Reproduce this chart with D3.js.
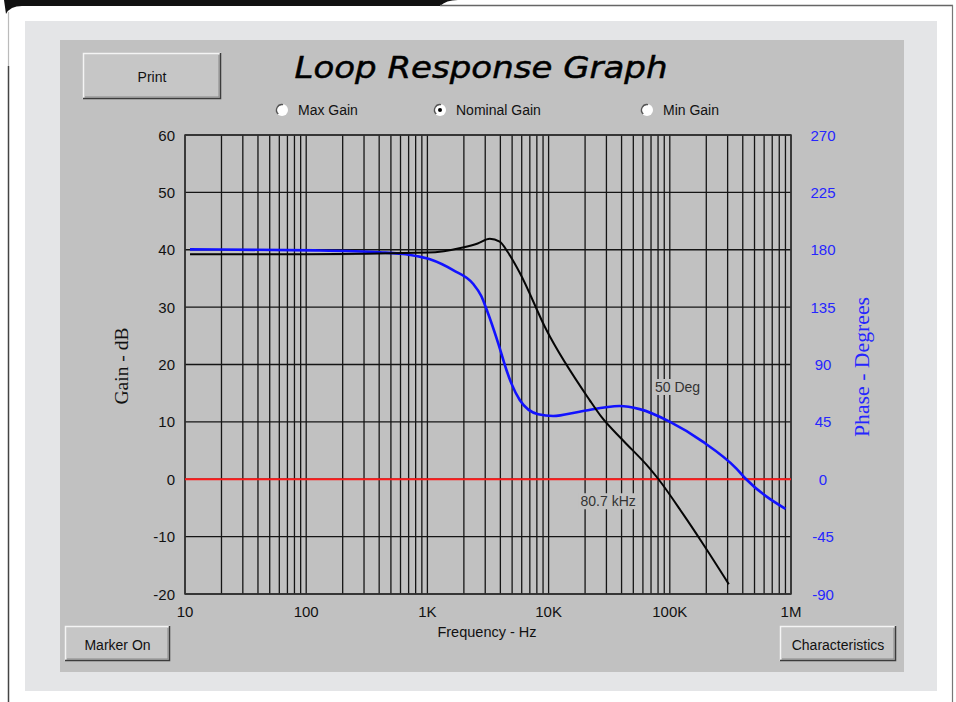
<!DOCTYPE html>
<html>
<head>
<meta charset="utf-8">
<script src="https://cdn.jsdelivr.net/npm/d3@7"></script>
<style>
  body { margin: 0; background: #fff; }
  svg { display: block; }
</style>
</head>
<body>
<svg id="chart"></svg>
<script>
// gain curve (nominal)
const gainFreq = [11, 100, 1000, 1960, 2600, 3270, 3950, 4600, 5780, 9600, 21800, 27200, 41000, 68200, 80700, 128000, 187000, 307000]
const gainDb   = [39.2, 39.2, 39.5, 40.4, 41.1, 41.9, 41.4, 39.6, 36.0, 26.0, 13.8, 10.9, 6.8, 1.9, 0, -6.0, -11.2, -18.3]

// phase curve
const phaseFreq = [11, 118, 405, 717, 1050, 1630, 2370, 2790, 3070, 3840, 4490, 4930, 5780, 8200, 10900, 18000, 38500, 56400, 99600, 187000, 353000, 427000, 902000]
const phaseDeg  = [180.3, 179.5, 178, 176, 172.5, 164, 153.5, 143.5, 133.5, 106.6, 85.7, 75.2, 62.2, 51, 49.6, 53, 57.5, 55, 45.2, 29.5, 8.6, 0, -23.3]

const freqTicks = [10, 100, 1000, 10000, 100000, 1000000]
const freqTickLabels = ["10", "100", "1K", "10K", "100K", "1M"]
const gainTicks = [60, 50, 40, 30, 20, 10, 0, -10, -20]
const phaseTicks = [270, 225, 180, 135, 90, 45, 0, -45, -90]

const radios = ["Max Gain", "Nominal Gain", "Min Gain"]
const selectedRadio = "Nominal Gain"
const crossoverFreq = 80700
const crossoverLabel = "80.7 kHz"
const marginLabel = "50 Deg"

const W = 956, H = 702
const plot = { left: 185, right: 791, top: 135, bottom: 594 }
const radioPos = [282, 440, 647]
const sans = "'Liberation Sans', Arial, sans-serif"
const serif = "'Liberation Serif', 'DejaVu Serif', serif"

const svg = d3.select("#chart").attr("width", W).attr("height", H)
    .attr("font-family", sans)

// page frame
svg.append("path")
   .attr("d", "M4,0 L458,0 Q446,0 440,6 L22,6 Q10,6 6,14 Z")
   .attr("fill", "#111")
svg.append("line").attr("x1", 440).attr("x2", 953).attr("y1", 5.5).attr("y2", 5.5)
   .attr("stroke", "#666").attr("stroke-width", 1.5)
svg.append("line").attr("x1", 952.5).attr("x2", 952.5).attr("y1", 5).attr("y2", H)
   .attr("stroke", "#777").attr("stroke-width", 1.2)
svg.append("line").attr("x1", 8.5).attr("x2", 8.5).attr("y1", 12).attr("y2", 66)
   .attr("stroke", "#bbb").attr("stroke-width", 1.2)
svg.append("line").attr("x1", 8.5).attr("x2", 8.5).attr("y1", 66).attr("y2", H)
   .attr("stroke", "#444").attr("stroke-width", 1.5)

// panels
svg.append("rect").attr("x", 25).attr("y", 21).attr("width", 912).attr("height", 670).attr("fill", "#e4e5e7")
svg.append("rect").attr("x", 60).attr("y", 40).attr("width", 844).attr("height", 632).attr("fill", "#c1c1c1")

function button(x, y, w, h, label) {
  const g = svg.append("g").attr("transform", `translate(${x},${y})`)
  g.append("rect").attr("width", w).attr("height", h).attr("fill", "#c6c6c6")
  g.append("path").attr("d", `M0.5,${h} V0.5 H${w}`).attr("fill", "none").attr("stroke", "#f4f4f4").attr("stroke-width", 1.5)
  g.append("path").attr("d", `M0,${h - 0.5} H${w - 0.5} V0`).attr("fill", "none").attr("stroke", "#3c3c3c").attr("stroke-width", 1.5)
  g.append("path").attr("d", `M2,${h - 2} H${w - 2} V2`).attr("fill", "none").attr("stroke", "#888").attr("stroke-width", 1)
  g.append("text").attr("x", w / 2).attr("y", h / 2 + 1).attr("text-anchor", "middle")
   .attr("dominant-baseline", "central").attr("font-size", 14).attr("fill", "#111").text(label)
}
button(83, 53, 138, 46, "Print")
button(65, 626, 105, 35, "Marker On")
button(780, 626, 116, 35, "Characteristics")

// title
svg.append("text")
   .attr("x", 481).attr("y", 78)
   .attr("text-anchor", "middle")
   .attr("font-family", "'DejaVu Sans', Verdana, sans-serif")
   .attr("font-style", "italic")
   .attr("font-size", 31)
   .attr("textLength", 373)
   .attr("lengthAdjust", "spacingAndGlyphs")
   .attr("fill", "#000")
   .attr("stroke", "#000").attr("stroke-width", 0.5)
   .text("Loop Response Graph")

// radio buttons
radios.forEach((r, i) => {
  const g = svg.append("g").attr("transform", `translate(${radioPos[i]},110)`)
  g.append("circle").attr("r", 6).attr("fill", "#fff")
  g.append("path").attr("d", d3.arc()({ innerRadius: 4.8, outerRadius: 6.2, startAngle: -2.4, endAngle: 0.2 }))
   .attr("fill", "#555")
  if (r === selectedRadio) g.append("circle").attr("r", 2).attr("fill", "#000")
  g.append("text").attr("x", 16).attr("y", 0).attr("dominant-baseline", "central")
   .attr("font-size", 14).attr("fill", "#111").text(r)
})

// scales
const x = d3.scaleLog().domain([10, 1e6]).range([plot.left, plot.right])
const yGain = d3.scaleLinear().domain([-20, 60]).range([plot.bottom, plot.top])
const yPhase = d3.scaleLinear().domain([-90, 270]).range([plot.bottom, plot.top])

const grid = svg.append("g").attr("stroke", "#151515").attr("stroke-width", 1.3)
grid.selectAll("line.v").data(x.ticks()).join("line").attr("class", "v")
    .attr("x1", d => x(d)).attr("x2", d => x(d)).attr("y1", plot.top).attr("y2", plot.bottom)
grid.selectAll("line.h").data(gainTicks).join("line").attr("class", "h")
    .attr("x1", plot.left).attr("x2", plot.right).attr("y1", d => yGain(d)).attr("y2", d => yGain(d))
svg.append("rect").attr("x", plot.left).attr("y", plot.top)
   .attr("width", plot.right - plot.left).attr("height", plot.bottom - plot.top)
   .attr("fill", "none").attr("stroke", "#333").attr("stroke-width", 1.5)

// axis labels
svg.selectAll("text.gtick").data(gainTicks).join("text").attr("class", "gtick")
   .attr("x", 175).attr("y", d => yGain(d)).attr("text-anchor", "end").attr("dominant-baseline", "central")
   .attr("font-size", 15).attr("fill", "#111").text(d => d)
svg.selectAll("text.ptick").data(phaseTicks).join("text").attr("class", "ptick")
   .attr("x", 823).attr("y", d => yPhase(d)).attr("text-anchor", "middle").attr("dominant-baseline", "central")
   .attr("font-size", 15).attr("fill", "#2626ff").text(d => d)
svg.selectAll("text.ftick").data(freqTicks).join("text").attr("class", "ftick")
   .attr("x", d => x(d)).attr("y", 617).attr("text-anchor", "middle")
   .attr("font-size", 15).attr("fill", "#111").text((d, i) => freqTickLabels[i])

svg.append("text").attr("x", 487).attr("y", 637).attr("text-anchor", "middle")
   .attr("font-size", 14.5).attr("fill", "#111").text("Frequency - Hz")
svg.append("text").attr("transform", "translate(128,366) rotate(-90)").attr("text-anchor", "middle")
   .attr("font-family", serif).attr("font-size", 18)
   .attr("textLength", 77).attr("lengthAdjust", "spacingAndGlyphs")
   .attr("fill", "#111").text("Gain - dB")
svg.append("text").attr("transform", "translate(869,367) rotate(-90)").attr("text-anchor", "middle")
   .attr("font-family", serif).attr("font-size", 20)
   .attr("textLength", 140).attr("lengthAdjust", "spacingAndGlyphs")
   .attr("fill", "#2626ff").text("Phase - Degrees")

// 0 dB line
svg.append("line").attr("x1", plot.left).attr("x2", plot.right)
   .attr("y1", yGain(0)).attr("y2", yGain(0)).attr("stroke", "#ff1a1a").attr("stroke-width", 2.2)

// marker texts with background
function tag(cx, cy, label) {
  const t = svg.append("text").attr("x", cx).attr("y", cy).attr("dominant-baseline", "central")
   .attr("font-size", 14).attr("fill", "#333").text(label)
  const b = t.node().getBBox()
  svg.insert("rect", () => t.node()).attr("x", b.x - 2).attr("y", b.y).attr("width", b.width + 4)
   .attr("height", b.height).attr("fill", "#c1c1c1")
}
tag(x(crossoverFreq) - 78, yGain(0) + 22, crossoverLabel)
tag(655, 387, marginLabel)

// curves
const line = d3.line().curve(d3.curveMonotoneX)
const gainPts = gainFreq.map((f, i) => [x(f), yGain(gainDb[i])])
const phasePts = phaseFreq.map((f, i) => [x(f), yPhase(phaseDeg[i])])

svg.append("path").attr("d", line(phasePts)).attr("fill", "none")
   .attr("stroke", "#1212ff").attr("stroke-width", 2.6)
svg.append("path").attr("d", line(gainPts)).attr("fill", "none")
   .attr("stroke", "#050505").attr("stroke-width", 2)
</script>
</body>
</html>
